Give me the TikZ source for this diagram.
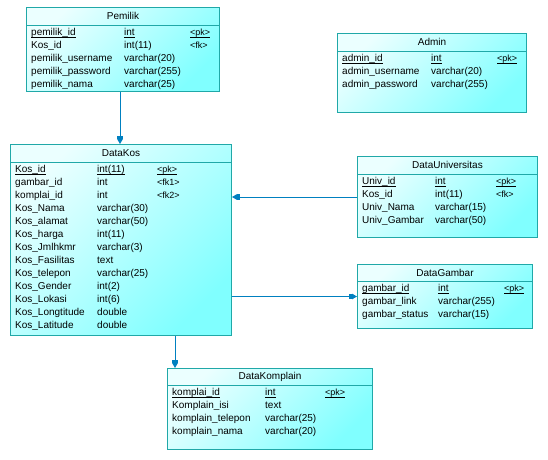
\documentclass[tikz,border=0pt]{standalone}
\usepackage{fontspec}
\setmainfont{Liberation Sans}
\usetikzlibrary{calc,arrows.meta}

\definecolor{garisrelasi}{RGB}{0,128,192}
\definecolor{tepi}{RGB}{32,168,168}
\definecolor{isiatas}{RGB}{235,255,255}
\definecolor{isibawah}{RGB}{128,255,255}
\newcommand{\garisbawah}[1]{\underline{\smash{#1}}}

\begin{document}
\begin{tikzpicture}[
	x=1pt, y=-1pt,
	tabel/.style={
		draw=tepi, line width=1pt, anchor=north west,
		top color=isiatas, bottom color=isibawah, shading angle=45,
		inner sep=0pt
	},
	judul/.style={font=\fontsize{10}{12}\selectfont, inner sep=0pt},
	kolom/.style={anchor=west, inner sep=0pt, text height=7pt, text depth=2pt,
		font=\fontsize{10}{12}\selectfont},
	kunci/.style={kolom, font=\fontsize{9}{11}\selectfont},
	sekat/.style={draw=tepi, line width=1pt},
	relasi/.style={draw=garisrelasi, line width=1pt,
		-{Rectangle[length=3pt,width=5.5pt]Triangle[length=5pt,width=5.5pt]}}
	]
	\useasboundingbox (0,0) rectangle (548,459);

	% Pemilik
	\node[tabel, minimum width=193, minimum height=84] (pemilik) at (26,7) {};
	\node[judul] (pemilik-j) at ($(pemilik.north)+(0,9)$) {Pemilik};
	\draw[sekat] ($(pemilik.north west)+(0,18)$) -- ($(pemilik.north east)+(0,18)$);
	\foreach \n/\t/\k [count=\i from 0] in {
		{\garisbawah{pemilik\_id}}/{\garisbawah{int}}/{\garisbawah{<pk>}},
		Kos\_id/int(11)/<fk>,
		pemilik\_username/varchar(20)/{},
		pemilik\_password/varchar(255)/{},
		pemilik\_nama/varchar(25)/{}}
	{
		\node[kolom] (pemilik-a\i) at ($(pemilik.north west)+(5,26+13*\i)$) {\n};
		\node[kolom] (pemilik-b\i) at ($(pemilik.north west)+(98,26+13*\i)$) {\t};
		\node[kunci] (pemilik-c\i) at ($(pemilik.north west)+(164,26+13*\i)$) {\k};
	}

	% Admin
	\node[tabel, minimum width=189, minimum height=79] (admin) at (337,33) {};
	\node[judul] (admin-j) at ($(admin.north)+(0,9)$) {Admin};
	\draw[sekat] ($(admin.north west)+(0,18)$) -- ($(admin.north east)+(0,18)$);
	\foreach \n/\t/\k [count=\i from 0] in {
		{\garisbawah{admin\_id}}/{\garisbawah{int}}/{\garisbawah{<pk>}},
		admin\_username/varchar(20)/{},
		admin\_password/varchar(255)/{}}
	{
		\node[kolom] (admin-a\i) at ($(admin.north west)+(5,26+13*\i)$) {\n};
		\node[kolom] (admin-b\i) at ($(admin.north west)+(94,26+13*\i)$) {\t};
		\node[kunci] (admin-c\i) at ($(admin.north west)+(160,26+13*\i)$) {\k};
	}

	% DataKos
	\node[tabel, minimum width=221, minimum height=191] (kos) at (10,144) {};
	\node[judul] (kos-j) at ($(kos.north)+(0,9)$) {DataKos};
	\draw[sekat] ($(kos.north west)+(0,18)$) -- ($(kos.north east)+(0,18)$);
	\foreach \n/\t/\k [count=\i from 0] in {
		{\garisbawah{Kos\_id}}/{\garisbawah{int(11)}}/{\garisbawah{<pk>}},
		gambar\_id/int/<fk1>,
		komplai\_id/int/<fk2>,
		Kos\_Nama/varchar(30)/{},
		Kos\_alamat/varchar(50)/{},
		Kos\_harga/int(11)/{},
		Kos\_Jmlhkmr/varchar(3)/{},
		Kos\_Fasilitas/text/{},
		Kos\_telepon/varchar(25)/{},
		Kos\_Gender/int(2)/{},
		Kos\_Lokasi/int(6)/{},
		Kos\_Longtitude/double/{},
		Kos\_Latitude/double/{}}
	{
		\node[kolom] (kos-a\i) at ($(kos.north west)+(5,26+13*\i)$) {\n};
		\node[kolom] (kos-b\i) at ($(kos.north west)+(87,26+13*\i)$) {\t};
		\node[kunci] (kos-c\i) at ($(kos.north west)+(147,26+13*\i)$) {\k};
	}

	% DataUniversitas
	\node[tabel, minimum width=180, minimum height=81] (univ) at (357,156) {};
	\node[judul] (univ-j) at ($(univ.north)+(0,9)$) {DataUniversitas};
	\draw[sekat] ($(univ.north west)+(0,18)$) -- ($(univ.north east)+(0,18)$);
	\foreach \n/\t/\k [count=\i from 0] in {
		{\garisbawah{Univ\_id}}/{\garisbawah{int}}/{\garisbawah{<pk>}},
		Kos\_id/int(11)/<fk>,
		Univ\_Nama/varchar(15)/{},
		Univ\_Gambar/varchar(50)/{}}
	{
		\node[kolom] (univ-a\i) at ($(univ.north west)+(5,26+13*\i)$) {\n};
		\node[kolom] (univ-b\i) at ($(univ.north west)+(78,26+13*\i)$) {\t};
		\node[kunci] (univ-c\i) at ($(univ.north west)+(139,26+13*\i)$) {\k};
	}

	% DataGambar
	\node[tabel, minimum width=175, minimum height=64] (gambar) at (357,264) {};
	\node[judul] (gambar-j) at ($(gambar.north)+(0,9)$) {DataGambar};
	\draw[sekat] ($(gambar.north west)+(0,17)$) -- ($(gambar.north east)+(0,17)$);
	\foreach \n/\t/\k [count=\i from 0] in {
		{\garisbawah{gambar\_id}}/{\garisbawah{int}}/{\garisbawah{<pk>}},
		gambar\_link/varchar(255)/{},
		gambar\_status/varchar(15)/{}}
	{
		\node[kolom] (gambar-a\i) at ($(gambar.north west)+(5,25+13*\i)$) {\n};
		\node[kolom] (gambar-b\i) at ($(gambar.north west)+(81,25+13*\i)$) {\t};
		\node[kunci] (gambar-c\i) at ($(gambar.north west)+(147,25+13*\i)$) {\k};
	}

	% DataKomplain
	\node[tabel, minimum width=205, minimum height=81] (komplain) at (167,368) {};
	\node[judul] (komplain-j) at ($(komplain.north)+(0,9)$) {DataKomplain};
	\draw[sekat] ($(komplain.north west)+(0,17)$) -- ($(komplain.north east)+(0,17)$);
	\foreach \n/\t/\k [count=\i from 0] in {
		{\garisbawah{komplai\_id}}/{\garisbawah{int}}/{\garisbawah{<pk>}},
		Komplain\_isi/text/{},
		komplain\_telepon/varchar(25)/{},
		komplain\_nama/varchar(20)/{}}
	{
		\node[kolom] (komplain-a\i) at ($(komplain.north west)+(5,25+13*\i)$) {\n};
		\node[kolom] (komplain-b\i) at ($(komplain.north west)+(98,25+13*\i)$) {\t};
		\node[kunci] (komplain-c\i) at ($(komplain.north west)+(158,25+13*\i)$) {\k};
	}

	% relasi
	\coordinate (pemilik-bawah) at ($(pemilik.south west)+(94,0)$);
	\draw[relasi] (pemilik-bawah) -- (pemilik-bawah |- kos.north);
	\draw[relasi] (univ.west) -- (univ.west -| kos.east);
	\draw[relasi] (gambar.west -| kos.east) -- (gambar.west);
	\coordinate (kos-bawah) at ($(kos.south west)+(165,0)$);
	\draw[relasi] (kos-bawah) -- (kos-bawah |- komplain.north);
\end{tikzpicture}
\end{document}
